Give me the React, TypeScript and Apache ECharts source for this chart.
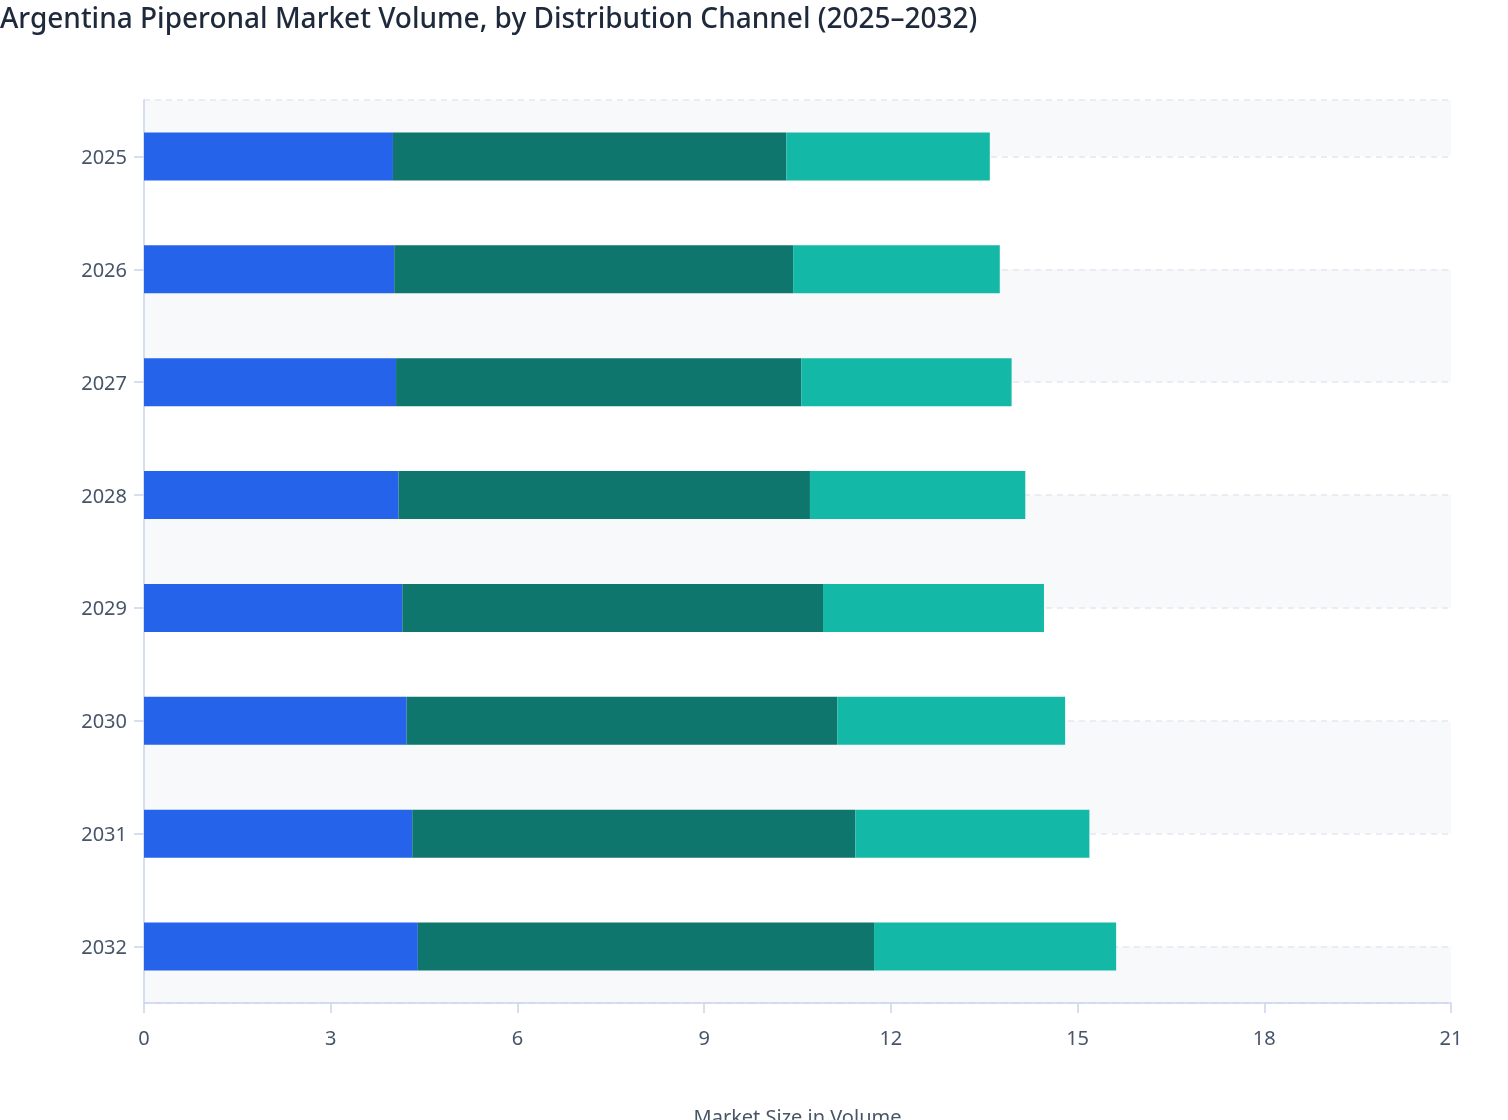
import React, { useEffect, useRef } from 'react';
import * as echarts from 'echarts';

// years, top to bottom
const years = ['2025', '2026', '2027', '2028', '2029', '2030', '2031', '2032'];

// distribution channel volumes
const channelA = [4.0, 4.02, 4.05, 4.09, 4.15, 4.22, 4.31, 4.4];
const channelB = [6.32, 6.41, 6.51, 6.61, 6.76, 6.92, 7.12, 7.33];
const channelC = [3.27, 3.32, 3.38, 3.46, 3.55, 3.66, 3.76, 3.89];

const seriesNames = ['Direct Sales', 'Distributors', 'Online Retail'];
const seriesColors = ['#2563eb', '#0f766e', '#14b8a6'];

const xTicks = { min: 0, max: 21, interval: 3 };

const App: React.FC = () => {
    const chartRef: any = useRef(null);

    useEffect(() => {
        const chart = echarts.init(chartRef.current, null, { renderer: 'svg' });
        const axisColor = '#c9d4ee';
        const labelColor = '#475569';
        const option = {
            animation: false,
            textStyle: { fontFamily: 'Noto Sans' },
            title: {
                text: 'Argentina Piperonal Market Volume, by Distribution Channel (2025–2032)',
                left: 0,
                top: 3,
                padding: 0,
                textStyle: { fontSize: 28, fontWeight: 500, color: '#1e293b', fontFamily: 'Noto Sans' }
            },
            grid: { left: 144, right: 57, top: 100, bottom: 117, containLabel: false, outerBoundsMode: 'none' },
            xAxis: {
                type: 'value',
                min: xTicks.min,
                max: xTicks.max,
                interval: xTicks.interval,
                name: 'Market Size in Volume',
                nameLocation: 'middle',
                nameGap: 103,
                nameTextStyle: { fontSize: 20, color: labelColor },
                axisLine: { show: true, onZero: false, lineStyle: { color: axisColor, width: 1.5 } },
                axisTick: { show: true, length: 10, lineStyle: { color: axisColor, width: 1.5 } },
                axisLabel: { margin: 24, fontSize: 20, color: labelColor },
                splitLine: { show: false }
            },
            yAxis: [
                {
                    type: 'category',
                    data: years,
                    inverse: true,
                    axisLine: { show: true, lineStyle: { color: axisColor, width: 1.5 } },
                    axisTick: { show: true, length: 10, alignWithLabel: true, lineStyle: { color: axisColor, width: 1.5 } },
                    axisLabel: { margin: 17, fontSize: 20, color: labelColor },
                    splitLine: { show: false }
                },
                {
                    // hidden helper axis: bands and dashed lines through the bar centres
                    type: 'value',
                    min: -0.5,
                    max: years.length - 0.5,
                    splitNumber: years.length,
                    inverse: true,
                    position: 'left',
                    axisLine: { show: false },
                    axisTick: { show: false },
                    axisLabel: { show: false },
                    splitLine: { show: true, lineStyle: { color: '#e3e7ef', width: 1.5, type: [6, 5] } },
                    splitArea: { show: true, areaStyle: { color: ['#f8f9fb', '#ffffff'] } }
                }
            ],
            series: [channelA, channelB, channelC].map((d, i) => ({
                name: seriesNames[i],
                type: 'bar',
                stack: 'total',
                yAxisIndex: 0,
                barWidth: '42.5%',
                itemStyle: { color: seriesColors[i] },
                data: d
            }))
        };
        chart.setOption(option);
        return () => {
            chart.dispose();
        };
    }, []);

    return <div ref={chartRef} style={{ position: 'fixed', left: 0, top: 0, width: 1508, height: 1120 }}></div>;
};

export default App;
